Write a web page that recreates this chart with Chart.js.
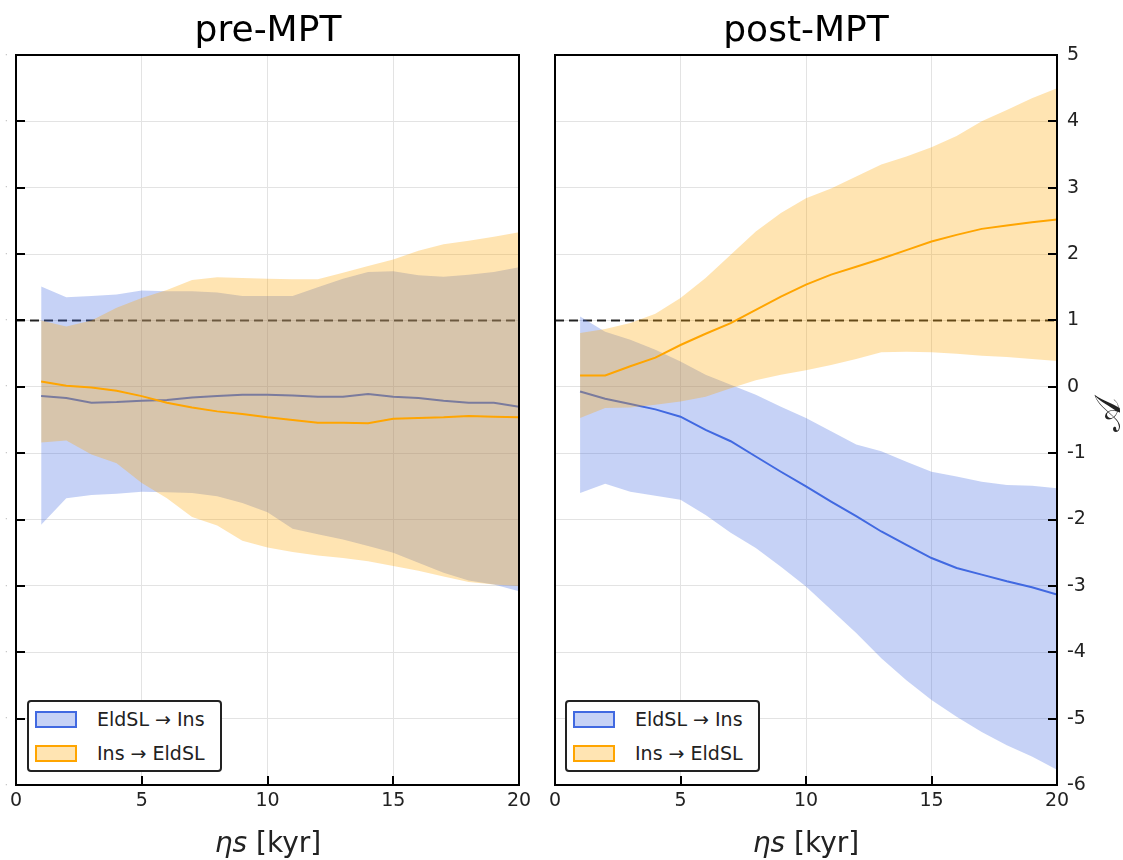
<!DOCTYPE html>
<html><head><meta charset="utf-8">
<script src="https://cdn.jsdelivr.net/npm/chart.js@4.4.0/dist/chart.umd.min.js"></script>
<style>
body{margin:0;width:1123px;height:860px;background:#fff;position:relative;overflow:hidden;font-family:"DejaVu Sans",sans-serif;color:#111;}
canvas{position:absolute;top:0;}
#cL{left:0}
#cR{left:540px}
.title{position:absolute;top:11px;font-size:36px;line-height:36px;transform:translateX(-50%);white-space:nowrap;color:#000;}
.xlab{position:absolute;top:829px;font-size:28px;line-height:28px;transform:translateX(-50%);white-space:nowrap;color:#222;}
.ylab{position:absolute;left:1108px;top:415px;font-size:36px;line-height:36px;transform:translate(-50%,-50%) rotate(-90deg);color:#222;font-family:"DejaVu Serif","DejaVu Sans",serif;}
.legend{position:absolute;top:700px;width:191px;height:68px;border:2px solid #222;border-radius:4px;background:#fff;}
.sw{position:absolute;left:6px;width:38px;height:13px;border:2px solid;}
.sw.b{top:9px;background:rgba(65,105,225,0.3);border-color:#4169E1;}
.sw.o{top:43px;background:rgba(255,165,0,0.3);border-color:#FFA500;}
.lt{position:absolute;left:68px;font-size:19px;line-height:20px;color:#222;white-space:nowrap;}
</style>
</head><body>
<canvas id="cL" width="540" height="860"></canvas>
<canvas id="cR" width="583" height="860"></canvas>
<div class="title" style="left:268px">pre-MPT</div>
<div class="title" style="left:806px">post-MPT</div>
<div class="xlab" style="left:268px"><i>ηs</i> [kyr]</div>
<div class="xlab" style="left:806px"><i>ηs</i> [kyr]</div>
<div class="ylab">𝒜</div>
<div class="legend" style="left:27px"><div class="sw b"></div><div class="lt" style="top:7px">EldSL → Ins</div><div class="sw o"></div><div class="lt" style="top:41px">Ins → EldSL</div></div>
<div class="legend" style="left:565px"><div class="sw b"></div><div class="lt" style="top:7px">EldSL → Ins</div><div class="sw o"></div><div class="lt" style="top:41px">Ins → EldSL</div></div>
<script>
const xs = [1,2,3,4,5,6,7,8,9,10,11,12,13,14,15,16,17,18,19,20];
const xTicks = [0,5,10,15,20];
const yTicks = [-6,-5,-4,-3,-2,-1,0,1,2,3,4,5];
const refX = [0,20];
const refY = [1,1];

// pre-MPT
const preBlueMean = [-0.14,-0.17,-0.24,-0.23,-0.21,-0.20,-0.16,-0.14,-0.12,-0.12,-0.13,-0.15,-0.15,-0.11,-0.15,-0.17,-0.21,-0.24,-0.24,-0.30];
const preBlueHi   = [1.51,1.35,1.37,1.39,1.45,1.44,1.44,1.42,1.37,1.37,1.37,1.50,1.63,1.73,1.74,1.68,1.66,1.69,1.73,1.80];
const preBlueLo   = [-2.08,-1.68,-1.63,-1.61,-1.58,-1.59,-1.60,-1.65,-1.75,-1.89,-2.14,-2.22,-2.30,-2.40,-2.50,-2.65,-2.80,-2.92,-2.98,-3.08];
const preOrMean   = [0.08,0.015,-0.01,-0.06,-0.14,-0.24,-0.31,-0.37,-0.41,-0.46,-0.50,-0.54,-0.54,-0.55,-0.48,-0.47,-0.46,-0.44,-0.45,-0.46];
const preOrHi     = [1.00,0.91,1.00,1.19,1.34,1.46,1.61,1.65,1.64,1.63,1.62,1.62,1.72,1.82,1.92,2.05,2.15,2.20,2.26,2.33];
const preOrLo     = [-0.84,-0.81,-1.02,-1.15,-1.45,-1.68,-1.96,-2.09,-2.32,-2.42,-2.49,-2.54,-2.58,-2.63,-2.70,-2.77,-2.86,-2.94,-2.98,-3.00];

// post-MPT
const postBlueMean = [-0.07,-0.18,-0.26,-0.34,-0.45,-0.65,-0.82,-1.05,-1.28,-1.50,-1.73,-1.95,-2.18,-2.38,-2.58,-2.73,-2.83,-2.93,-3.02,-3.13];
const postBlueHi   = [1.06,0.83,0.71,0.56,0.38,0.18,0.03,-0.12,-0.30,-0.47,-0.67,-0.87,-0.97,-1.13,-1.28,-1.35,-1.43,-1.48,-1.49,-1.53];
const postBlueLo   = [-1.60,-1.46,-1.58,-1.64,-1.70,-1.93,-2.20,-2.43,-2.71,-3.01,-3.36,-3.71,-4.09,-4.42,-4.72,-4.97,-5.20,-5.40,-5.57,-5.77];
const postOrMean   = [0.17,0.17,0.31,0.44,0.63,0.80,0.96,1.16,1.36,1.54,1.69,1.81,1.93,2.06,2.19,2.29,2.38,2.43,2.48,2.52];
const postOrHi     = [0.81,0.87,0.96,1.10,1.34,1.64,1.99,2.34,2.62,2.84,2.99,3.17,3.35,3.47,3.61,3.78,4.00,4.17,4.35,4.50];
const postOrLo     = [-0.47,-0.32,-0.31,-0.27,-0.22,-0.15,-0.02,0.10,0.18,0.25,0.33,0.42,0.52,0.53,0.52,0.50,0.47,0.45,0.42,0.39];

const BLUE = '#4169E1', ORANGE = '#FFA500';
const BLUE_BAND = 'rgba(65,105,225,0.3)', ORANGE_BAND = 'rgba(255,165,0,0.3)';
const FONT = 'DejaVu Sans';

const pts = ys => xs.map((x,i)=>({x, y: ys[i]}));
const band = (ys, fill, color, order) => ({data: pts(ys), borderColor:'rgba(0,0,0,0)', borderWidth:0, pointRadius:0, fill: fill, backgroundColor: color, order, tension:0});

function makeDatasets(bMean,bHi,bLo,oMean,oHi,oLo){
  return [
    {data: refX.map((x,i)=>({x, y: refY[i]})), borderColor:'rgba(0,0,0,0.85)', borderDash:[9,5], borderWidth:2, pointRadius:0, fill:false, order:10},
    band(bHi, '+1', BLUE_BAND, 9),
    band(bLo, false, BLUE_BAND, 9),
    {data: pts(bMean), borderColor: BLUE, borderWidth:2, pointRadius:0, fill:false, order:8, tension:0},
    band(oHi, '+1', ORANGE_BAND, 7),
    band(oLo, false, ORANGE_BAND, 7),
    {data: pts(oMean), borderColor: ORANGE, borderWidth:2, pointRadius:0, fill:false, order:6, tension:0}
  ];
}

function framePlugin(side){
  return {
    id: 'frame',
    afterDraw(chart){
      const {ctx, chartArea:a, scales} = chart;
      const x = scales.x, y = scales.y;
      ctx.save();
      ctx.strokeStyle = '#000';
      ctx.lineWidth = 2;
      ctx.beginPath();
      xTicks.forEach(v => { const px = Math.round(x.getPixelForValue(v)); ctx.moveTo(px, a.bottom); ctx.lineTo(px, a.bottom - 9); });
      yTicks.forEach(v => {
        const py = Math.round(y.getPixelForValue(v));
        if (side === 'left'){ ctx.moveTo(a.left, py); ctx.lineTo(a.left + 9, py); }
        else { ctx.moveTo(a.right, py); ctx.lineTo(a.right - 9, py); }
      });
      ctx.stroke();
      ctx.strokeRect(a.left, a.top, a.right - a.left, a.bottom - a.top);
      ctx.restore();
    }
  };
}

function makeChart(id, side, dsets){
  const padding = side === 'left' ? {left:0, right:21, top:55, bottom:0} : {left:15, right:0, top:55, bottom:0};
  return new Chart(document.getElementById(id), {
    type: 'line',
    data: { datasets: dsets },
    options: {
      responsive: false, animation: false, devicePixelRatio: 1,
      layout: { padding, autoPadding: false },
      plugins: { legend: {display:false}, tooltip: {enabled:false}, title:{display:false} },
      scales: {
        x: {
          type: 'linear', min: 0, max: 20,
          afterBuildTicks(s){ s.ticks = xTicks.map(v => ({value: v})); },
          ticks: { font:{size:19, family:FONT}, color:'#222', padding:5, maxRotation:0, autoSkip:false },
          grid: { color:'#e3e3e3', lineWidth:1, drawTicks:false },
          border: { display:false },
          afterFit(s){ s.height = 75; }
        },
        y: {
          type: 'linear', min: -6, max: 5, position: side,
          afterBuildTicks(s){ s.ticks = yTicks.map(v => ({value: v})); },
          ticks: side === 'left'
            ? { font:{size:10, family:FONT}, color:'#c0c0c0', padding:8, callback: () => '·' }
            : { font:{size:19, family:FONT}, color:'#222', padding:10, callback: v => String(v) },
          grid: { color:'#e3e3e3', lineWidth:1, drawTicks:false },
          border: { display:false },
          afterFit(s){ s.width = side === 'left' ? 16 : 66; }
        }
      }
    },
    plugins: [framePlugin(side)]
  });
}

makeChart('cL', 'left', makeDatasets(preBlueMean, preBlueHi, preBlueLo, preOrMean, preOrHi, preOrLo));
makeChart('cR', 'right', makeDatasets(postBlueMean, postBlueHi, postBlueLo, postOrMean, postOrHi, postOrLo));
</script>
</body></html>
